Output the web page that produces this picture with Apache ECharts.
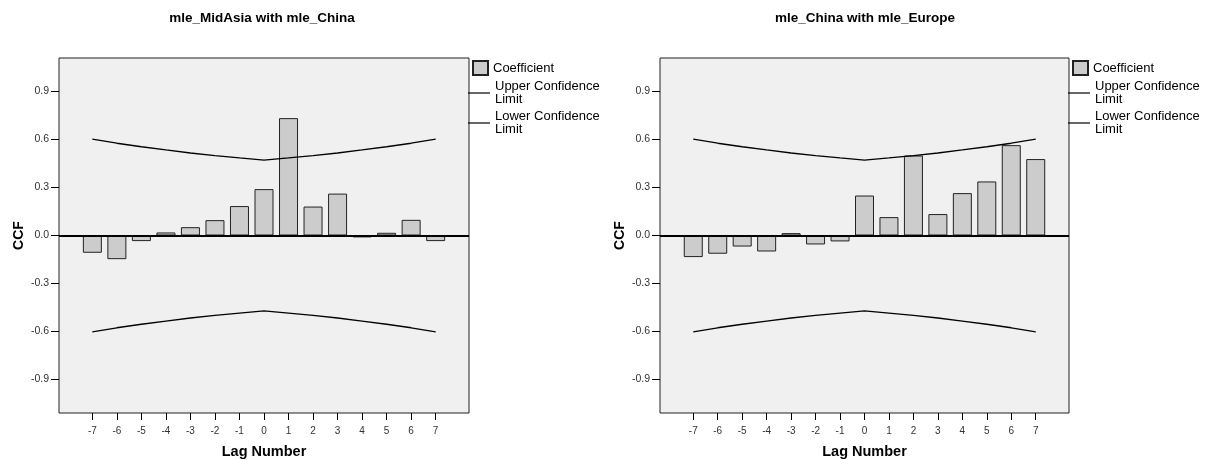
<!DOCTYPE html>
<html>
<head>
<meta charset="utf-8">
<script src="https://cdn.jsdelivr.net/npm/echarts@6/dist/echarts.min.js"></script>
<style>
  html, body { margin: 0; padding: 0; background: #fff; }
  #chart { width: 1209px; height: 460px; }
</style>
</head>
<body>
<div id="chart"></div>
<script>
// Cross-correlation (CCF) of the mle series, lags -7..7
const lags = [-7, -6, -5, -4, -3, -2, -1, 0, 1, 2, 3, 4, 5, 6, 7];
const yTicks = [-0.9, -0.6, -0.3, 0.0, 0.3, 0.6, 0.9];

const titleLeft = 'mle_MidAsia with mle_China';
const titleRight = 'mle_China with mle_Europe';

const ccfMidAsiaChina = [-0.108, -0.148, -0.035, 0.019, 0.052, 0.096, 0.184, 0.290, 0.734, 0.181, 0.262, -0.012, 0.017, 0.098, -0.035];
const ccfChinaEurope = [-0.135, -0.114, -0.069, -0.100, 0.015, -0.056, -0.037, 0.250, 0.115, 0.500, 0.134, 0.265, 0.338, 0.565, 0.478];

// Confidence limits (same sample length for both pairs)
const upperLimit = [0.603, 0.577, 0.555, 0.535, 0.516, 0.500, 0.485, 0.471, 0.485, 0.500, 0.516, 0.535, 0.555, 0.577, 0.603];
const lowerLimit = [-0.603, -0.577, -0.555, -0.535, -0.516, -0.500, -0.485, -0.471, -0.485, -0.500, -0.516, -0.535, -0.555, -0.577, -0.603];

const FONT = 'Liberation Sans, Arial, sans-serif';
const pairs = arr => lags.map((k, i) => [k, arr[i]]);

const grids = [
  { left: 59, top: 58, width: 410, height: 355 },
  { left: 660, top: 58, width: 409, height: 355 }
];

function xAxisFor(gi) {
  return {
    gridIndex: gi, type: 'value', min: -8.36, max: 8.36,
    name: 'Lag Number', nameLocation: 'middle', nameGap: 31,
    nameTextStyle: { fontFamily: FONT, fontWeight: 'bold', fontSize: 14.5, color: '#000' },
    axisLine: { show: false, onZero: false },
    axisTick: { show: true, customValues: lags, length: 7, lineStyle: { color: '#000' } },
    axisLabel: { customValues: lags, margin: 13, fontFamily: FONT, fontSize: 10, color: '#333' },
    splitLine: { show: false }
  };
}
function yAxisFor(gi) {
  return {
    gridIndex: gi, type: 'value', min: -1.11, max: 1.11,
    name: 'CCF', nameLocation: 'middle', nameGap: 33, nameRotate: 90,
    nameTextStyle: { fontFamily: FONT, fontWeight: 'bold', fontSize: 14, color: '#000' },
    axisLine: { show: false, onZero: false },
    axisTick: { show: true, customValues: yTicks, length: 8, lineStyle: { color: '#000' } },
    axisLabel: { customValues: yTicks, margin: 10, fontFamily: FONT, fontSize: 10.5, color: '#333',
      formatter: v => v.toFixed(1) },
    splitLine: { show: false }
  };
}

function seriesFor(gi, values, tag) {
  return [
    {
      name: 'Coefficient' + tag, type: 'bar', xAxisIndex: gi, yAxisIndex: gi,
      data: pairs(values), barWidth: 19,
      itemStyle: { color: '#cccccc', borderColor: '#222', borderWidth: 1 },
      markLine: {
        silent: true, symbol: 'none', label: { show: false },
        lineStyle: { color: '#000', width: 2, type: 'solid' },
        data: [{ yAxis: 0 }]
      },
      z: 2
    },
    {
      name: 'Upper' + tag, type: 'line', xAxisIndex: gi, yAxisIndex: gi,
      data: pairs(upperLimit), symbol: 'none',
      lineStyle: { color: '#000', width: 1.3 }, itemStyle: { color: '#000' }, z: 3
    },
    {
      name: 'Lower' + tag, type: 'line', xAxisIndex: gi, yAxisIndex: gi,
      data: pairs(lowerLimit), symbol: 'none',
      lineStyle: { color: '#000', width: 1.3 }, itemStyle: { color: '#000' }, z: 3
    }
  ];
}

function legendsFor(plotRight, tag) {
  const ts = { fontFamily: FONT, fontSize: 13, color: '#000', lineHeight: 13 };
  return [
    {
      left: plotRight - 2, top: 55, orient: 'vertical', itemWidth: 15, itemHeight: 14,
      selectedMode: false, itemGap: 4, textStyle: ts,
      data: [{ name: 'Coefficient' + tag, icon: 'rect' }],
      formatter: () => 'Coefficient'
    },
    {
      left: plotRight - 6, top: 75, orient: 'vertical', itemWidth: 22, itemHeight: 1.2,
      selectedMode: false, itemGap: 4, textStyle: ts,
      data: [{ name: 'Upper' + tag, icon: 'rect' }, { name: 'Lower' + tag, icon: 'rect' }],
      formatter: n => n.startsWith('Upper') ? 'Upper Confidence\nLimit' : 'Lower Confidence\nLimit'
    }
  ];
}

const chart = echarts.init(document.getElementById('chart'), null, { renderer: 'canvas' });
chart.setOption({
  backgroundColor: '#fff',
  animation: false,
  title: [
    { text: titleLeft, left: 257, top: 6, textAlign: 'center',
      textStyle: { fontFamily: FONT, fontWeight: 'bold', fontSize: 13.5, color: '#000' } },
    { text: titleRight, left: 860, top: 6, textAlign: 'center',
      textStyle: { fontFamily: FONT, fontWeight: 'bold', fontSize: 13.5, color: '#000' } }
  ],
  grid: grids.map(g => Object.assign({
    show: true, backgroundColor: '#f0f0f0', borderColor: '#222', borderWidth: 1,
    containLabel: false, outerBoundsMode: 'none'
  }, g)),
  xAxis: [xAxisFor(0), xAxisFor(1)],
  yAxis: [yAxisFor(0), yAxisFor(1)],
  legend: [...legendsFor(469, ''), ...legendsFor(1069, ' ')],
  series: [...seriesFor(0, ccfMidAsiaChina, ''), ...seriesFor(1, ccfChinaEurope, ' ')]
});
</script>
</body>
</html>
